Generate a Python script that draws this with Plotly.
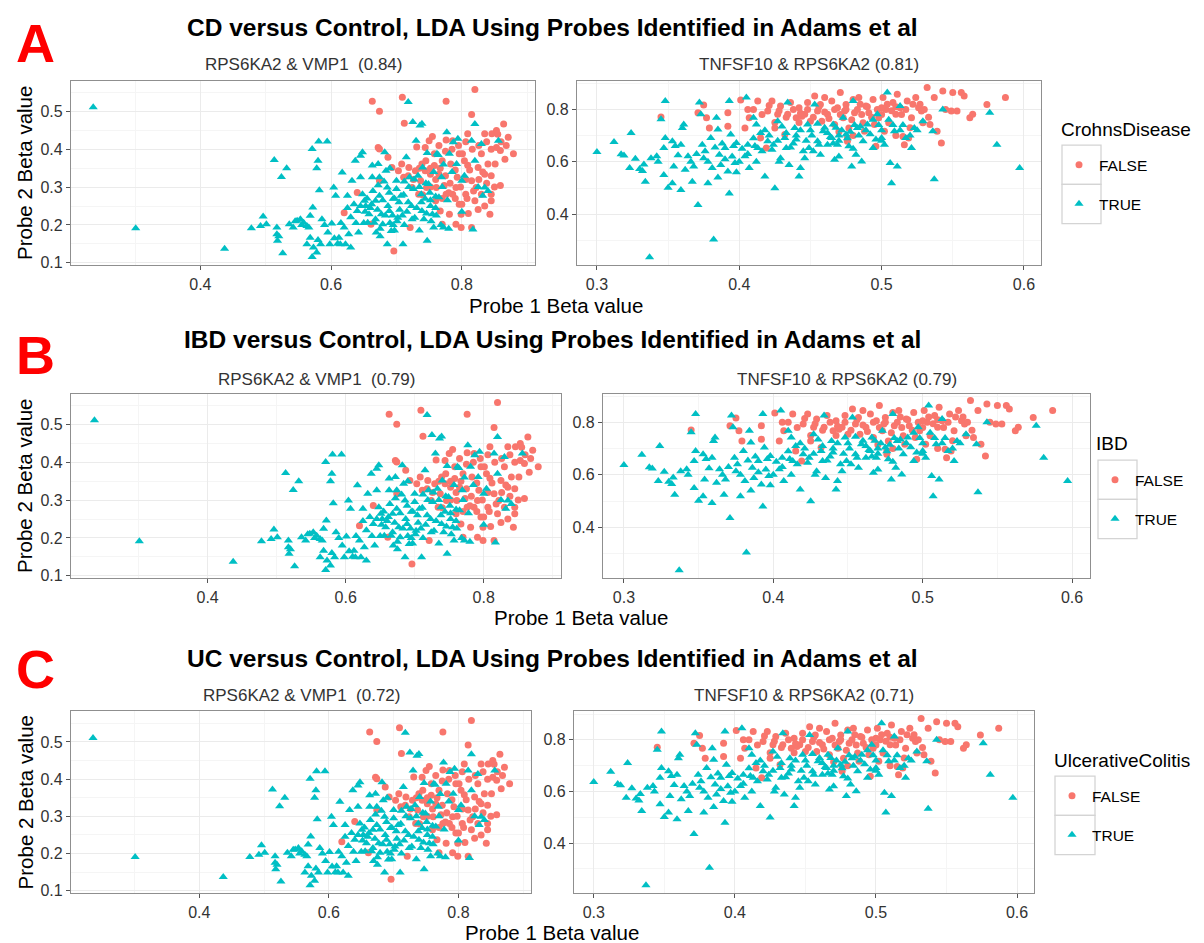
import plotly.graph_objects as go

# ---------------- data ----------------
row_titles = ["CD versus Control, LDA Using Probes Identified in Adams et al",
              "IBD versus Control, LDA Using Probes Identified in Adams et al",
              "UC versus Control, LDA Using Probes Identified in Adams et al"]
row_letters = ["A", "B", "C"]
left_subtitles = ["RPS6KA2 & VMP1  (0.84)", "RPS6KA2 & VMP1  (0.79)", "RPS6KA2 & VMP1  (0.72)"]
right_subtitles = ["TNFSF10 & RPS6KA2 (0.81)", "TNFSF10 & RPS6KA2 (0.79)", "TNFSF10 & RPS6KA2 (0.71)"]
legend_titles = ["CrohnsDisease", "IBD", "UlcerativeColitis"]
categories = ["FALSE", "TRUE"]

left_x_ticks = [0.4, 0.6, 0.8]
left_y_ticks = [0.1, 0.2, 0.3, 0.4, 0.5]
right_x_ticks = [0.3, 0.4, 0.5, 0.6]
right_y_ticks = [0.4, 0.6, 0.8]

# left panels (RPS6KA2 & VMP1)
left_true_x = [0.236, 0.301, 0.437, 0.478, 0.496, 0.492, 0.501, 0.513, 0.517, 0.517, 0.518, 0.524, 0.532, 0.526,
               0.536, 0.542, 0.548, 0.553, 0.558, 0.563, 0.571, 0.581, 0.594, 0.580, 0.578, 0.582, 0.572, 0.568,
               0.566, 0.563, 0.568, 0.573, 0.571, 0.578, 0.584, 0.586, 0.601, 0.598, 0.604, 0.607, 0.612, 0.614,
               0.617, 0.620, 0.625, 0.622, 0.627, 0.630, 0.632, 0.635, 0.640, 0.642, 0.637, 0.645, 0.648, 0.645,
               0.648, 0.651, 0.653, 0.658, 0.656, 0.663, 0.663, 0.668, 0.666, 0.669, 0.672, 0.674, 0.674, 0.677,
               0.679, 0.682, 0.684, 0.686, 0.689, 0.692, 0.686, 0.695, 0.700, 0.702, 0.707, 0.710, 0.715, 0.718,
               0.720, 0.723, 0.725, 0.728, 0.730, 0.736, 0.738, 0.739, 0.739, 0.740, 0.744, 0.747, 0.749, 0.752,
               0.755, 0.757, 0.762, 0.765, 0.769, 0.772, 0.777, 0.781, 0.787, 0.792, 0.794, 0.800, 0.815, 0.820,
               0.817, 0.830, 0.832, 0.835, 0.856,
               0.652, 0.660, 0.668, 0.675, 0.683, 0.690, 0.697, 0.705, 0.712, 0.718, 0.726, 0.733, 0.742, 0.751,
               0.760, 0.770, 0.778, 0.785, 0.650, 0.700, 0.690, 0.712, 0.757, 0.764, 0.804, 0.825, 0.840,
               0.655, 0.662, 0.671, 0.679, 0.687, 0.694, 0.701, 0.709, 0.716, 0.724, 0.731, 0.738, 0.746, 0.753,
               0.761, 0.768, 0.664, 0.672, 0.681, 0.689, 0.697, 0.704, 0.711, 0.719, 0.727, 0.735, 0.745, 0.752,
               0.760, 0.630, 0.638, 0.645, 0.615, 0.605, 0.595, 0.590, 0.555, 0.545, 0.520, 0.580, 0.610, 0.625,
               0.675, 0.695, 0.735, 0.780, 0.800, 0.772, 0.747, 0.820]
left_true_y = [0.511, 0.191, 0.137, 0.191, 0.222, 0.197, 0.202, 0.372, 0.193, 0.175, 0.158, 0.327, 0.350, 0.125,
               0.202, 0.193, 0.211, 0.215, 0.206, 0.197, 0.401, 0.421, 0.421, 0.370, 0.350, 0.292, 0.246, 0.224,
               0.193, 0.149, 0.166, 0.140, 0.115, 0.127, 0.149, 0.215, 0.204, 0.149, 0.299, 0.277, 0.166, 0.149,
               0.339, 0.193, 0.277, 0.149, 0.175, 0.140, 0.317, 0.255, 0.237, 0.180, 0.370, 0.383, 0.392, 0.326,
               0.281, 0.264, 0.250, 0.228, 0.206, 0.357, 0.326, 0.264, 0.206, 0.180, 0.361, 0.326, 0.277, 0.228,
               0.202, 0.392, 0.343, 0.299, 0.237, 0.184, 0.149, 0.269, 0.317, 0.219, 0.277, 0.149, 0.379, 0.525,
               0.326, 0.250, 0.472, 0.219, 0.423, 0.463, 0.281, 0.468, 0.237, 0.352, 0.269, 0.158, 0.308, 0.250,
               0.228, 0.193, 0.388, 0.273, 0.326, 0.193, 0.445, 0.388, 0.419, 0.361, 0.428, 0.317, 0.423, 0.467,
               0.188, 0.414, 0.277, 0.299, 0.423,
               0.235, 0.245, 0.215, 0.190, 0.225, 0.205, 0.185, 0.240, 0.200, 0.260, 0.295, 0.330, 0.215, 0.285,
               0.245, 0.300, 0.265, 0.340, 0.205, 0.295, 0.350, 0.315, 0.340, 0.385, 0.330, 0.300, 0.290,
               0.270, 0.255, 0.240, 0.265, 0.250, 0.225, 0.210, 0.225, 0.235, 0.215, 0.245, 0.260, 0.230, 0.210,
               0.225, 0.200, 0.290, 0.305, 0.315, 0.285, 0.270, 0.260, 0.280, 0.300, 0.320, 0.300, 0.310, 0.265,
               0.275, 0.220, 0.205, 0.250, 0.205, 0.165, 0.180, 0.200, 0.200, 0.210, 0.170, 0.160, 0.150, 0.245,
               0.170, 0.200, 0.185, 0.190, 0.235, 0.360, 0.390, 0.370]
left_false_x = [0.663, 0.674, 0.672, 0.674, 0.709, 0.712, 0.776, 0.815, 0.820, 0.864, 0.879, 0.871, 0.859, 0.859,
                0.845, 0.843, 0.851, 0.846, 0.835, 0.830, 0.825, 0.822, 0.820, 0.815, 0.809, 0.806, 0.801, 0.799,
                0.796, 0.793, 0.791, 0.786, 0.783, 0.781, 0.776, 0.776, 0.773, 0.770, 0.767, 0.765, 0.760, 0.758,
                0.755, 0.752, 0.750, 0.746, 0.744, 0.739, 0.737, 0.734, 0.731, 0.729, 0.724, 0.721, 0.719, 0.711,
                0.708, 0.703, 0.693, 0.696, 0.674, 0.661, 0.640, 0.620, 0.687, 0.796, 0.804, 0.815, 0.835, 0.840,
                0.830, 0.791, 0.761, 0.744, 0.853, 0.853, 0.845, 0.786, 0.770, 0.799, 0.758, 0.825, 0.809, 0.866,
                0.745, 0.752, 0.760, 0.767, 0.775, 0.782, 0.790, 0.798, 0.806, 0.812, 0.818, 0.826, 0.832, 0.838,
                0.845, 0.850, 0.808, 0.800, 0.790, 0.780, 0.770, 0.826, 0.838, 0.845, 0.816, 0.806, 0.795, 0.785,
                0.775, 0.765, 0.735, 0.726, 0.718, 0.740, 0.752, 0.860, 0.868, 0.855, 0.835, 0.810]
left_false_y = [0.527, 0.501, 0.405, 0.401, 0.538, 0.469, 0.527, 0.492, 0.558, 0.467, 0.388, 0.432, 0.397, 0.304,
                0.281, 0.228, 0.361, 0.441, 0.441, 0.388, 0.352, 0.299, 0.264, 0.193, 0.358, 0.281, 0.388, 0.228,
                0.255, 0.326, 0.202, 0.281, 0.361, 0.228, 0.425, 0.281, 0.304, 0.370, 0.237, 0.334, 0.264, 0.388,
                0.434, 0.334, 0.423, 0.299, 0.405, 0.361, 0.317, 0.281, 0.406, 0.343, 0.299, 0.193, 0.352, 0.326,
                0.361, 0.343, 0.352, 0.131, 0.317, 0.202, 0.286, 0.232, 0.379, 0.388, 0.370, 0.317, 0.334, 0.361,
                0.281, 0.299, 0.299, 0.343, 0.405, 0.450, 0.264, 0.423, 0.202, 0.193, 0.357, 0.241, 0.441, 0.374,
                0.370, 0.350, 0.320, 0.350, 0.330, 0.310, 0.345, 0.300, 0.320, 0.345, 0.290, 0.320, 0.340, 0.310,
                0.330, 0.300, 0.270, 0.255, 0.270, 0.285, 0.270, 0.410, 0.420, 0.400, 0.400, 0.420, 0.410, 0.400,
                0.395, 0.410, 0.350, 0.320, 0.330, 0.280, 0.300, 0.420, 0.410, 0.440, 0.250, 0.230]

# right panels (TNFSF10 & RPS6KA2)
right_true_x = [0.300, 0.312, 0.317, 0.319, 0.324, 0.323, 0.327, 0.330, 0.332, 0.334, 0.337, 0.338, 0.342, 0.345,
                0.348, 0.347, 0.348, 0.347, 0.350, 0.353, 0.353, 0.354, 0.359, 0.359, 0.360, 0.361, 0.364, 0.367,
                0.368, 0.371, 0.372, 0.373, 0.374, 0.375, 0.378, 0.380, 0.381, 0.382, 0.384, 0.385, 0.386, 0.387,
                0.390, 0.392, 0.393, 0.393, 0.394, 0.397, 0.398, 0.404, 0.405, 0.406, 0.407, 0.410, 0.412, 0.413,
                0.415, 0.418, 0.420, 0.423, 0.425, 0.427, 0.429, 0.432, 0.433, 0.434, 0.435, 0.439, 0.440, 0.442,
                0.443, 0.446, 0.448, 0.449, 0.453, 0.455, 0.457, 0.459, 0.462, 0.465, 0.466, 0.467, 0.469, 0.473,
                0.475, 0.477, 0.479, 0.480, 0.482, 0.483, 0.486, 0.487, 0.490, 0.494, 0.496, 0.497, 0.500, 0.502,
                0.504, 0.506, 0.507, 0.509, 0.511, 0.513, 0.517, 0.521, 0.523, 0.529, 0.536, 0.537, 0.543, 0.576,
                0.581, 0.597,
                0.440, 0.450, 0.455, 0.462, 0.468, 0.470, 0.478, 0.485, 0.492, 0.430, 0.424, 0.436, 0.445, 0.410,
                0.418, 0.402, 0.395, 0.388, 0.376, 0.366, 0.357, 0.470, 0.466, 0.498, 0.505, 0.515,
                0.370, 0.378, 0.383, 0.390, 0.396, 0.400, 0.406, 0.411, 0.416, 0.421, 0.427, 0.433, 0.438, 0.443,
                0.447, 0.451, 0.456, 0.460, 0.464, 0.472, 0.476, 0.481, 0.484, 0.489, 0.494, 0.500, 0.508, 0.513,
                0.520, 0.525, 0.355, 0.343, 0.333, 0.362, 0.385, 0.398, 0.412, 0.428, 0.452, 0.470, 0.480, 0.500]
right_true_y = [0.637, 0.676, 0.629, 0.624, 0.710, 0.576, 0.612, 0.573, 0.565, 0.524, 0.236, 0.614, 0.621, 0.762,
                0.832, 0.653, 0.691, 0.550, 0.501, 0.518, 0.678, 0.582, 0.665, 0.492, 0.729, 0.742, 0.621, 0.524,
                0.582, 0.435, 0.826, 0.781, 0.665, 0.614, 0.518, 0.691, 0.576, 0.304, 0.768, 0.723, 0.627, 0.588,
                0.653, 0.563, 0.832, 0.479, 0.704, 0.595, 0.672, 0.621, 0.845, 0.665, 0.576, 0.768, 0.742, 0.653,
                0.710, 0.544, 0.678, 0.646, 0.499, 0.755, 0.614, 0.691, 0.653, 0.826, 0.588, 0.729, 0.685, 0.544,
                0.576, 0.614, 0.742, 0.653, 0.819, 0.678, 0.627, 0.717, 0.665, 0.691, 0.742, 0.608, 0.665, 0.768,
                0.704, 0.659, 0.582, 0.832, 0.627, 0.729, 0.601, 0.678, 0.742, 0.653, 0.685, 0.781, 0.691, 0.665,
                0.864, 0.595, 0.518, 0.717, 0.582, 0.813, 0.691, 0.653, 0.729, 0.755, 0.717, 0.533, 0.800, 0.787,
                0.665, 0.576,
                0.700, 0.720, 0.745, 0.710, 0.730, 0.700, 0.715, 0.735, 0.705, 0.735, 0.665, 0.655, 0.640, 0.690,
                0.720, 0.650, 0.620, 0.670, 0.640, 0.600, 0.625, 0.680, 0.670, 0.740, 0.760, 0.740,
                0.630, 0.600, 0.655, 0.610, 0.660, 0.600, 0.630, 0.660, 0.640, 0.700, 0.680, 0.710, 0.670, 0.720,
                0.680, 0.700, 0.665, 0.730, 0.695, 0.720, 0.690, 0.740, 0.700, 0.720, 0.760, 0.720, 0.740, 0.720,
                0.700, 0.720, 0.660, 0.600, 0.590, 0.570, 0.540, 0.560, 0.600, 0.600, 0.640, 0.620, 0.650, 0.680]
right_false_x = [0.345, 0.371, 0.375, 0.377, 0.379, 0.392, 0.392, 0.401, 0.404, 0.406, 0.407, 0.413, 0.415, 0.419,
                 0.420, 0.423, 0.425, 0.427, 0.429, 0.432, 0.434, 0.436, 0.440, 0.442, 0.446, 0.448, 0.450, 0.453,
                 0.455, 0.457, 0.460, 0.462, 0.465, 0.467, 0.469, 0.471, 0.473, 0.475, 0.476, 0.477, 0.480, 0.481,
                 0.484, 0.487, 0.489, 0.491, 0.494, 0.495, 0.496, 0.498, 0.501, 0.503, 0.505, 0.508, 0.510, 0.511,
                 0.513, 0.515, 0.516, 0.518, 0.519, 0.521, 0.524, 0.526, 0.529, 0.532, 0.534, 0.537, 0.539, 0.542,
                 0.543, 0.549, 0.550, 0.553, 0.556, 0.558, 0.562, 0.564, 0.574, 0.587, 0.502, 0.488, 0.476, 0.444,
                 0.474, 0.500, 0.528,
                 0.410, 0.416, 0.421, 0.428, 0.433, 0.438, 0.443, 0.448, 0.452, 0.456, 0.460, 0.463, 0.467, 0.471,
                 0.475, 0.479, 0.483, 0.486, 0.490, 0.493, 0.497, 0.500, 0.504, 0.507, 0.510, 0.514, 0.517, 0.522,
                 0.527, 0.530, 0.533, 0.545, 0.520, 0.510, 0.480, 0.470, 0.458, 0.442, 0.425, 0.485]
right_false_y = [0.771, 0.787, 0.817, 0.768, 0.729, 0.736, 0.787, 0.836, 0.729, 0.800, 0.768, 0.832, 0.691, 0.653,
                 0.794, 0.832, 0.729, 0.781, 0.813, 0.704, 0.781, 0.826, 0.768, 0.806, 0.781, 0.826, 0.755, 0.851,
                 0.794, 0.819, 0.845, 0.781, 0.832, 0.742, 0.806, 0.864, 0.768, 0.819, 0.691, 0.729, 0.838, 0.787,
                 0.845, 0.749, 0.813, 0.787, 0.838, 0.742, 0.659, 0.768, 0.845, 0.800, 0.749, 0.826, 0.781, 0.858,
                 0.806, 0.697, 0.665, 0.832, 0.691, 0.768, 0.845, 0.806, 0.749, 0.883, 0.742, 0.845, 0.717, 0.672,
                 0.870, 0.794, 0.864, 0.794, 0.864, 0.851, 0.768, 0.781, 0.819, 0.845, 0.717, 0.717, 0.678, 0.774,
                 0.794, 0.806, 0.794,
                 0.800, 0.780, 0.815, 0.795, 0.770, 0.800, 0.785, 0.800, 0.770, 0.810, 0.790, 0.765, 0.800, 0.780,
                 0.800, 0.760, 0.800, 0.780, 0.810, 0.770, 0.800, 0.780, 0.820, 0.795, 0.810, 0.780, 0.800, 0.820,
                 0.820, 0.800, 0.770, 0.800, 0.730, 0.700, 0.700, 0.715, 0.755, 0.750, 0.750, 0.820]

# ---------------- layout geometry (pixels) ----------------
W, H = 1204, 943
FONT = "Liberation Sans, Arial, sans-serif"
COL = {"FALSE": "#F8766D", "TRUE": "#00BFC4"}
SYM = {"FALSE": "circle", "TRUE": "triangle-up"}
SIZE = {"FALSE": 7, "TRUE": 8}

rows = [
    dict(L=(63, 527), R=(569, 1033), Y=(73, 259), title_y=20, letter_y=35, sub_y=57, xlab=(548, 299),
         leg_title=(1052, 122), box=(1054, 1093, 138)),
    dict(L=(63, 553), R=(595, 1082), Y=(388, 574), title_y=334, letter_y=349, sub_y=374, xlab=(573, 613),
         leg_title=(1087, 438), box=(1090, 1129, 455)),
    dict(L=(63, 523), R=(566, 1026), Y=(708, 891), title_y=655, letter_y=665, sub_y=692, xlab=(544, 930),
         leg_title=(1045, 757), box=(1047, 1087, 773)),
]

def px(x):
    return x / W

def py(y):
    return 1 - y / H

fig = go.Figure()
annotations = []
shapes = []
layout = {}

left_data = {"FALSE": (left_false_x, left_false_y), "TRUE": (left_true_x, left_true_y)}
right_data = {"FALSE": (right_false_x, right_false_y), "TRUE": (right_true_x, right_true_y)}

grid_major = "#EBEBEB"
grid_minor = "#F5F5F5"

for r, row in enumerate(rows):
    legname = "legend" if r == 0 else f"legend{r + 1}"
    for side in range(2):
        k = 2 * r + side + 1
        xa = "x" if k == 1 else f"x{k}"
        ya = "y" if k == 1 else f"y{k}"
        data = left_data if side == 0 else right_data
        for gi, cat in enumerate(categories):
            xs, ys = data[cat]
            fig.add_trace(go.Scatter(
                x=xs, y=ys, mode="markers", name=cat,
                marker=dict(color=COL[cat], symbol=SYM[cat], size=SIZE[cat], line=dict(width=0)),
                xaxis=xa, yaxis=ya, showlegend=(side == 0), legend=legname,
                legendgroup=f"{r}-{cat}"))
        x0, x1 = row["L"] if side == 0 else row["R"]
        y0, y1 = row["Y"]
        if side == 0:
            xr, yr = [0.202, 0.912], [0.093, 0.582]
            xt, yt = left_x_ticks, left_y_ticks
            xminor, yminor = 0.1, 0.05
        else:
            xr, yr = [0.286, 0.612], [0.205, 0.910]
            xt, yt = right_x_ticks, right_y_ticks
            xminor, yminor = 0.05, 0.1
        axcommon = dict(showline=True, linecolor="#8f8f8f", linewidth=1.2, mirror=True,
                        ticks="outside", ticklen=4, tickcolor="#555555", tickwidth=1,
                        showgrid=True, gridcolor=grid_major, gridwidth=1, zeroline=False,
                        tickfont=dict(family=FONT, size=16, color="#333333"))
        layout["xaxis" if k == 1 else f"xaxis{k}"] = dict(
            axcommon, domain=[px(x0), px(x1)], range=xr, tickvals=xt,
            ticktext=[f"{v:.1f}" for v in xt], anchor=ya,
            minor=dict(dtick=xminor, tick0=0, showgrid=True, gridcolor=grid_minor, gridwidth=1, ticks=""))
        layout["yaxis" if k == 1 else f"yaxis{k}"] = dict(
            axcommon, domain=[py(y1), py(y0)], range=yr, tickvals=yt,
            ticktext=[f"{v:.1f}" for v in yt], anchor=xa,
            minor=dict(dtick=yminor, tick0=0, showgrid=True, gridcolor=grid_minor, gridwidth=1, ticks=""))
        sub = left_subtitles[r] if side == 0 else right_subtitles[r]
        annotations.append(dict(text=sub, x=px((x0 + x1) / 2), y=py(row["sub_y"]), xref="paper", yref="paper",
                                xanchor="center", yanchor="middle", showarrow=False,
                                font=dict(family=FONT, size=17, color="#333333")))
    # row title
    annotations.append(dict(text=f"<b>{row_titles[r]}</b>", x=px(544), y=py(row["title_y"]), xref="paper",
                            yref="paper", xanchor="center", yanchor="middle", showarrow=False,
                            font=dict(family=FONT, size=24.5, color="#000000")))
    # big letter
    annotations.append(dict(text=f"<b>{row_letters[r]}</b>", x=px(6), y=py(row["letter_y"]), xref="paper",
                            yref="paper", xanchor="left", yanchor="middle", showarrow=False,
                            font=dict(family=FONT, size=54, color="#FF0000")))
    # axis titles
    y0, y1 = row["Y"]
    annotations.append(dict(text="Probe 2 Beta value", x=px(17), y=py((y0 + y1) / 2), xref="paper", yref="paper",
                            xanchor="center", yanchor="middle", showarrow=False, textangle=-90,
                            font=dict(family=FONT, size=20.5, color="#000000")))
    annotations.append(dict(text="Probe 1 Beta value", x=px(row["xlab"][0]), y=py(row["xlab"][1]), xref="paper",
                            yref="paper", xanchor="center", yanchor="middle", showarrow=False,
                            font=dict(family=FONT, size=20.5, color="#000000")))
    # legend title
    annotations.append(dict(text=legend_titles[r], x=px(row["leg_title"][0]), y=py(row["leg_title"][1]),
                            xref="paper", yref="paper", xanchor="left", yanchor="middle", showarrow=False,
                            borderpad=0, font=dict(family=FONT, size=19, color="#000000")))
    bx0, bx1, by0 = row["box"]
    bh = 39.5
    # legend entries
    layout[legname] = dict(
        x=px(bx0 - 3), y=py(by0 + 3), xanchor="left", yanchor="top",
        font=dict(family=FONT, size=15.5, color="#000000"), bgcolor="rgba(0,0,0,0)",
        tracegroupgap=16, itemwidth=30, traceorder="grouped")
    for i in range(2):
        shapes.append(dict(type="rect", xref="paper", yref="paper", x0=px(bx0), x1=px(bx1),
                           y0=py(by0 + bh * (i + 1)), y1=py(by0 + bh * i),
                           line=dict(color="#D4D4D4", width=1.3), fillcolor="rgba(0,0,0,0)", layer="below"))

fig.update_layout(**layout)
fig.update_layout(width=W, height=H, margin=dict(l=0, r=0, t=0, b=0), paper_bgcolor="white",
                  plot_bgcolor="white", annotations=annotations, shapes=shapes,
                  font=dict(family=FONT))
fig.write_html("out.html")
